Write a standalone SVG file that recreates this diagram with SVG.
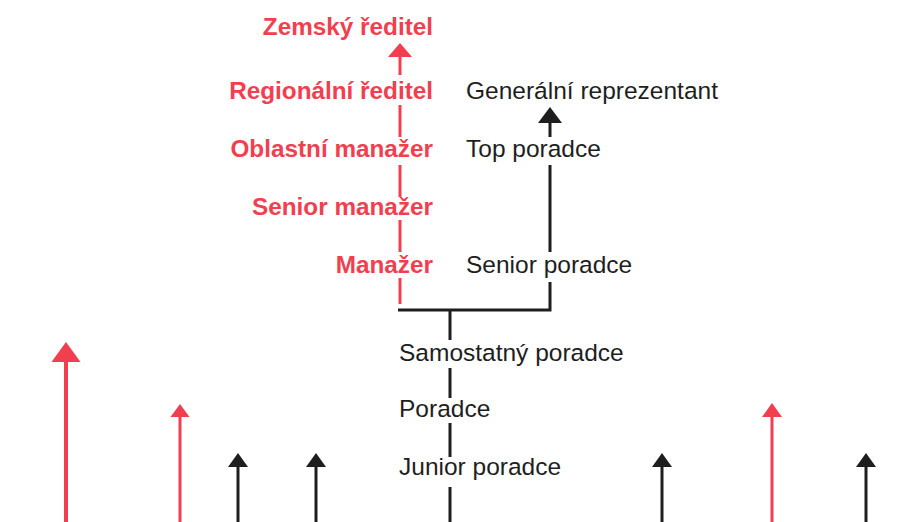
<svg xmlns="http://www.w3.org/2000/svg" width="908" height="522" viewBox="0 0 908 522">
<style>
.r{fill:#f23f4f}
.k{fill:#1e1e1e}
.rl{stroke:#f23f4f;fill:none}
.kl{stroke:#1e1e1e;fill:none}
.rt{font-family:"Liberation Sans",Arial,sans-serif;font-weight:bold;font-size:24.3px;fill:#f23f4f;text-anchor:end}
.kt{font-family:"Liberation Sans",Arial,sans-serif;font-size:24.5px;fill:#1e1e1e}
</style>
<rect width="908" height="522" fill="#fff"/>
<g id="connectors">
<path class="rl" stroke-width="3" d="M400 56V75M400 105V137M400 165V197M400 220V252M400 278V304"/>
<polygon class="r" points="400,43 412,57 388,57"/>
<path class="kl" stroke-width="3" d="M550 121V137M550 165V252M550 282V310H398"/>
<polygon class="k" points="550,107 562,123 538,123"/>
<path class="kl" stroke-width="3" d="M450 310V340M450 368V398M450 423V457M450 487V522"/>
<path class="rl" stroke-width="4" d="M66 360V522"/>
<polygon class="r" points="66,342 80.5,362 51.5,362"/>
<path class="rl" stroke-width="3" d="M180 415V522"/>
<polygon class="r" points="180,404 189.5,417 170.5,417"/>
<path class="kl" stroke-width="3" d="M238 465V522"/>
<polygon class="k" points="238,453 248,467 228,467"/>
<path class="kl" stroke-width="3" d="M316 465V522"/>
<polygon class="k" points="316,453 326,467 306,467"/>
<path class="kl" stroke-width="3" d="M662 465V522"/>
<polygon class="k" points="662,453 672,467 652,467"/>
<path class="rl" stroke-width="3" d="M772 415V522"/>
<polygon class="r" points="772,403 782,417 762,417"/>
<path class="kl" stroke-width="3" d="M866 465V522"/>
<polygon class="k" points="866,453 876,467 856,467"/>
</g>
<g id="zemsky-reditel"><text class="rt" x="433" y="35">Zemský ředitel</text></g>
<g id="regionalni-reditel"><text class="rt" x="433" y="99">Regionální ředitel</text></g>
<g id="oblastni-manazer"><text class="rt" x="433" y="157">Oblastní manažer</text></g>
<g id="senior-manazer"><text class="rt" x="433" y="215">Senior manažer</text></g>
<g id="manazer"><text class="rt" x="433" y="273">Manažer</text></g>
<g id="generalni-reprezentant"><text class="kt" x="466" y="99">Generální reprezentant</text></g>
<g id="top-poradce"><text class="kt" x="466" y="157">Top poradce</text></g>
<g id="senior-poradce"><text class="kt" x="466" y="273">Senior poradce</text></g>
<g id="samostatny-poradce"><text class="kt" x="399" y="361">Samostatný poradce</text></g>
<g id="poradce"><text class="kt" x="399" y="417">Poradce</text></g>
<g id="junior-poradce"><text class="kt" x="399" y="475">Junior poradce</text></g>
</svg>
